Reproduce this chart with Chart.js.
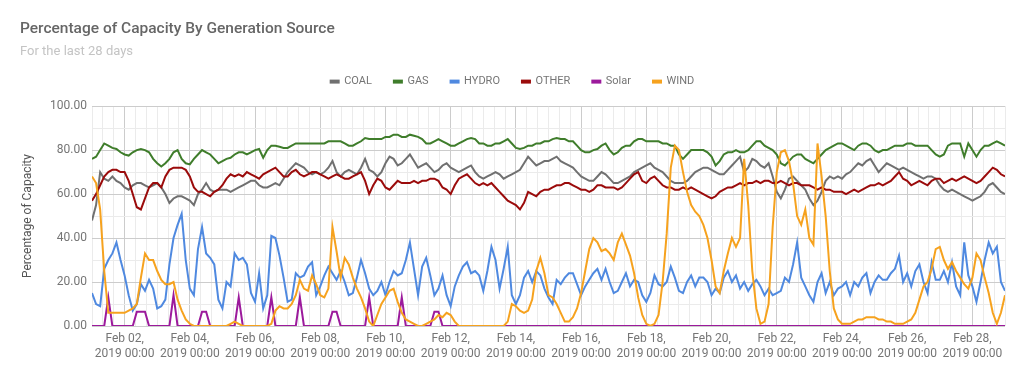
<!DOCTYPE html>
<html><head><meta charset="utf-8">
<script src="https://cdn.jsdelivr.net/npm/chart.js@4.4.1/dist/chart.umd.min.js"></script>
<style>html,body{margin:0;padding:0;background:#fff;}#wrap{width:1024px;height:380px;}</style>
</head><body><div id="wrap"><canvas id="c" width="1024" height="380"></canvas></div>
<script>
const TITLE = 'Percentage of Capacity By Generation Source';
const SUBTITLE = 'For the last 28 days';
const Y_TITLE = 'Percentage of Capacity';

// time axis: hours since Feb 01 2019 00:00, sampled every 3 hours
const HOURS = Array.from({length: 225}, (_, i) => i * 3);

const X_TICK_HOURS = [24, 72, 120, 168, 216, 264, 312, 360, 408, 456, 504, 552, 600, 648];
const X_TICK_LABELS = [
  ['Feb 02,', '2019 00:00'], ['Feb 04,', '2019 00:00'], ['Feb 06,', '2019 00:00'],
  ['Feb 08,', '2019 00:00'], ['Feb 10,', '2019 00:00'], ['Feb 12,', '2019 00:00'],
  ['Feb 14,', '2019 00:00'], ['Feb 16,', '2019 00:00'], ['Feb 18,', '2019 00:00'],
  ['Feb 20,', '2019 00:00'], ['Feb 22,', '2019 00:00'], ['Feb 24,', '2019 00:00'],
  ['Feb 26,', '2019 00:00'], ['Feb 28,', '2019 00:00']
];
const Y_TICKS = [0, 20, 40, 60, 80, 100];
const Y_TICK_LABELS = ['0.00', '20.00', '40.00', '60.00', '80.00', '100.00'];

const COAL = [
  48,55,70,67,66,68,66,65,  63,62,64,65,65,64,63,64,  65,63,60,56,58,59,59,58,
  57,55,60,62,65,62,61,62,  62,62,61,62,63,64,65,66,  66,64,63,63,64,65,64,67,
  70,72,74,73,72,70,69,70,  69,70,72,75,70,68,70,71,  70,69,72,76,71,70,68,70,
  74,77,76,73,74,76,78,75,  72,73,74,72,70,71,73,74,  72,71,70,71,72,73,70,68,
  67,68,69,70,69,67,68,69,  70,71,74,77,75,73,74,75,  75,76,77,75,74,73,72,70,
  68,67,66,66,68,70,69,67,  65,65,66,67,68,70,71,72,  73,74,72,71,70,68,66,65,
  65,65,66,68,70,71,72,72,  71,70,69,69,71,73,75,77,  70,72,76,75,73,72,74,68,
  61,58,62,67,68,66,64,62,  58,55,57,61,66,68,67,68,  67,69,70,72,74,73,75,76,
  73,70,72,74,73,72,71,72,  71,70,69,68,67,68,68,67,  64,62,61,62,61,60,59,58,
  57,58,59,61,64,65,63,61,  60
];
const GAS = [
  76,77,80,83,82,81,80.5,79,  78,77.5,79,80,80.5,80,79,76,  74,72.5,74,76,79,80,76,74,
  73.5,76,78,80,79,78,76,74,  75,76,76.5,78,79,79,78,79,  80,80.5,76.5,80,82,82,81.5,81,
  81,82,83,83,83,83,83,83,  83,83,84,84,84,84,83,82,  82,83,84,85.5,85,85,85,85,
  86,86,87,87,86,86,87,86.5,  86,85,83,83,84,85,84,83,  82,82,83,84,85,85.5,85,83,
  83,82,82,83,83,84,85,83,  81,80.5,81,82,82,83,83,84,  84,85,85.5,85,85,84,84,82,
  80,79,79,80,80.5,82,83,80,  78,79,81,82,82,84,85,85,  84,84,84,84,83,83,82,82,
  78,76,78,80,80,80,80,79,  77,73,75,78,79,79,80,79,  79,80,82,84,84,82,81,80,
  78,74,73,75,77,78,78,76,  75,74,76,78,80,81,82,83,  83,82,81,80,82,83,83,82,
  80,79,80,80,81,82,82,82,  83,83,82,82,82,82,80,78,  77,78,82,83,83,83,77,83,
  80,77,80,82,82,83,84,83,  82
];
const HYDRO = [
  15,10,9,26,30,33,38,30,  23,14,7,10,19,16,21,17,  8,9,12,28,40,46,51,30,
  17,14,35,45,33,31,28,12,  8,20,18,33,30,31,28,15,  11,24,8,14,41,40,32,22,
  11,12,24,22,23,27,29,14,  18,23,27,24,21,25,20,14,  15,22,30,24,17,14,16,20,
  14,20,25,23,24,30,38,26,  14,27,31,23,14,17,23,14,  9,18,23,27,29,24,25,23,
  16,25,36,30,17,26,36,14,  10,14,22,25,20,25,23,17,  13,10,21,19,22,24,24,19,
  14,18,21,24,26,21,26,20,  15,16,20,24,18,21,20,14,  11,15,23,19,18,20,27,22,
  16,15,20,23,18,22,22,20,  14,17,15,22,25,20,23,17,  20,16,19,21,18,14,17,14,
  15,16,22,20,28,38,22,18,  14,11,20,24,15,20,14,17,  18,20,14,20,18,22,24,15,
  20,23,21,21,24,26,32,20,  24,18,25,28,20,15,29,21,  21,25,20,29,18,14,38,23,
  18,11,20,30,38,33,36,20,  16
];
const OTHER = [
  57,60,64,68,70,71,71,70,  70,66,60,54,53,58,63,65,  65,63,68,71,72,72,72,71,
  68,63,61,61,60,59,61,62,  64,67,69,68,69,68,70,69,  68,67,69,70,71,72,70,68,
  68,70,71,69,68,69,70,70,  69,68,67,68,69,68,67,67,  68,69,70,66,60,64,67,66,
  63,62,64,66,65,65,65,66,  65,66,66,67,67,66,63,62,  60,64,67,68,69,67,65,64,
  65,64,65,63,61,59,57,56,  55,53,56,61,60,59,61,62,  62,63,64,64,65,65,64,63,
  62,62,61,62,64,64,63,63,  63,62,63,65,67,69,70,66,  65,67,68,66,64,63,63,62,
  62,63,62,63,62,61,60,59,  58,59,61,62,63,63,64,65,  64,65,65,66,65,66,66,65,
  65,66,65,64,65,65,64,64,  64,63,62,63,62,62,61,61,  61,60,61,62,61,62,63,64,
  64,65,64,65,66,68,70,67,  66,64,65,66,65,64,66,67,  67,65,66,67,66,67,68,67,
  66,65,66,68,70,72,71,69,  68
];
const SOLAR = [
  0,0,0,0,13,0,0,0,  0,0,0,6.5,6.5,6.5,0,0,  0,0,0,0,14,0,0,0,
  0,0,0,6.5,6.5,0,0,0,  0,0,0,0,13,0,0,0,  0,0,0,0,13,0,0,0,
  0,0,0,13,0,0,0,0,  0,0,0,6.5,6.5,0,0,0,  0,0,0,0,13,0,0,0,
  0,0,0,0,13,0,0,0,  0,0,0,0,6.5,6.5,0,0,  0,0,0,0,0,0,0,0,
  0,0,0,0,0,0,0,0,  0,0,0,0,0,0,0,0,  0,0,0,0,0,0,0,0,
  0,0,0,0,0,0,0,0,  0,0,0,0,0,0,0,0,  0,0,0,0,0,0,0,0,
  0,0,0,0,0,0,0,0,  0,0,0,0,0,0,0,0,  0,0,0,0,0,0,0,0,
  0,0,0,0,0,0,0,0,  0,0,0,0,0,0,0,0,  0,0,0,0,0,0,0,0,
  0,0,0,0,0,0,0,0,  0,0,0,0,0,0,0,0,  0,0,0,0,0,0,0,0,
  0,0,0,0,0,0,0,0,  0
];
const WIND = [
  68,65,53,25,6,6,6,6,  6,7,8,10,22,33,30,30,  25,21,19,19,20,12,7,3,
  1,0,0,0,0,0,0,0,  0,0,1,2,1,0,0,0,  0,0,0,0,1,7,9,8,
  8,10,14,21,17,16,23,19,  14,13,17,45,34,22,31,28,  22,17,13,8,2,0,5,10,
  13,16,17,11,6,3,2,1,  0,0,1,2,3,5,4,6,  5,2,0,0,0,0,0,0,
  0,0,0,0,0,0,2,10,  9,7,6,7,12,25,31,24,  14,13,10,6,2,2,4,8,
  15,25,35,40,38,34,35,33,  30,38,42,37,32,24,13,5,  1,0,1,5,20,42,72,82,
  80,70,61,55,52,50,46,40,  30,18,15,25,33,40,36,40,  76,55,25,8,1,2,10,45,
  70,79,80,75,65,50,46,53,  40,37,83,68,50,25,8,3,  1,1,1,2,3,3,4,4,
  4,3,3,2,2,1,1,1,  2,3,6,12,18,20,26,35,  36,30,26,29,25,22,19,17,
  22,33,30,22,15,6,1,6,  14
];

const COLORS = ['#707070', '#3f7d2b', '#4f89e0', '#9b0b0b', '#9c1a9c', '#f6a21e'];
const SERIES = [COAL, GAS, HYDRO, OTHER, SOLAR, WIND];
const NAMES = ['COAL', 'GAS', 'HYDRO', 'OTHER', 'Solar', 'WIND'];

Chart.defaults.font.family = 'Roboto, "Open Sans", Arial, sans-serif';

const xTickList = [];
for (let h = 0; h <= 672; h += 8) xTickList.push({value: h});
const yTickList = [];
for (let i = 0; i <= 30; i++) yTickList.push({value: i * 10 / 3});
const isMajorY = v => Y_TICKS.some(t => Math.abs(t - v) < 1e-6);

// extra space under the legend, before the plot area
const legendGap = {
  id: 'legendGap',
  beforeLayout(chart) {
    const lg = chart.legend;
    if (lg && !lg._gapPatched) {
      const f = lg.fit;
      lg.fit = function () { f.call(this); this.height += 9; };
      lg._gapPatched = true;
    }
  }
};

new Chart(document.getElementById('c'), {
  type: 'line',
  plugins: [legendGap],
  data: {
    labels: HOURS,
    datasets: SERIES.map((d, i) => ({
      label: NAMES[i], data: d, borderColor: COLORS[i], backgroundColor: COLORS[i],
      borderWidth: 2, pointRadius: 0, tension: 0, order: 6 - i
    }))
  },
  options: {
    responsive: false, animation: false, devicePixelRatio: 1,
    layout: {padding: {left: 20, right: 19, top: 0, bottom: 0}},
    plugins: {
      title: {display: true, text: TITLE, align: 'start', color: '#666666',
        font: {size: 15.5, weight: '500'}, padding: {top: 20, bottom: 5.5}},
      subtitle: {display: true, text: SUBTITLE, align: 'start', color: '#c4c4c4',
        font: {size: 13}, padding: {top: 0, bottom: -5.6}},
      legend: {display: true, position: 'top', align: 'center',
        labels: {boxWidth: 8, boxHeight: 2, color: '#757575', font: {size: 11}, padding: 22,
          sort: (a, b) => a.datasetIndex - b.datasetIndex}},
      tooltip: {enabled: false}
    },
    scales: {
      x: {
        type: 'linear', min: 0, max: 672,
        afterBuildTicks: s => { s.ticks = xTickList.map(t => ({value: t.value})); },
        afterFit: s => { s.height = 54; },
        ticks: {autoSkip: false, maxRotation: 0, minRotation: 0, color: '#757575', font: {size: 12}, padding: 6,
          callback: v => { const k = X_TICK_HOURS.indexOf(v); return k >= 0 ? X_TICK_LABELS[k] : ''; }},
        grid: {drawTicks: false, color: c => X_TICK_HOURS.includes(c.tick && c.tick.value) ? '#cccccc' : '#ebebeb'},
        border: {display: false}
      },
      y: {
        min: 0, max: 100,
        afterBuildTicks: s => { s.ticks = yTickList.map(t => ({value: t.value})); },
        afterFit: s => { s.width = 72; },
        ticks: {color: '#757575', font: {size: 12}, padding: 5,
          callback: v => { const k = Y_TICKS.findIndex(t => Math.abs(t - v) < 1e-6); return k >= 0 ? Y_TICK_LABELS[k] : ''; }},
        grid: {drawTicks: false, color: c => isMajorY(c.tick && c.tick.value) ? '#cccccc' : '#ebebeb'},
        border: {display: false},
        title: {display: true, text: Y_TITLE, color: '#555555', font: {size: 12}, padding: {top: 1, bottom: 0}}
      }
    }
  }
});
</script></body></html>
